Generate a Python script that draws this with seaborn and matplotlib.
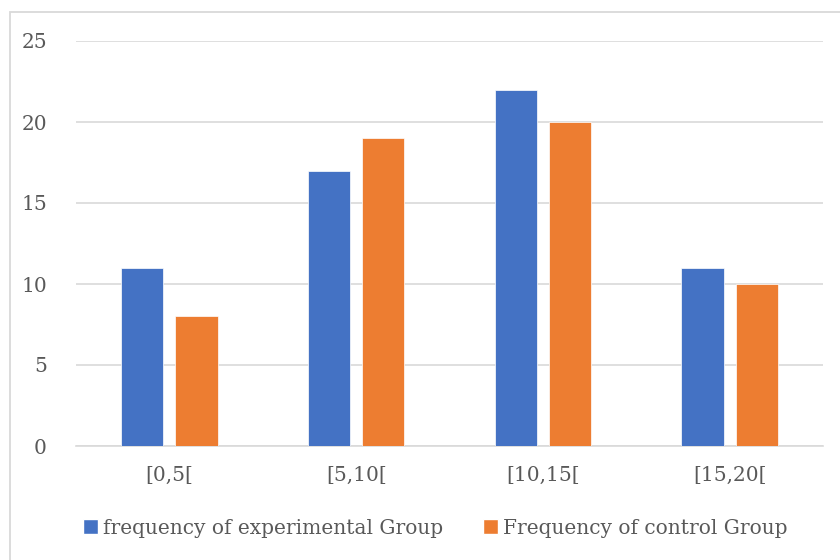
import matplotlib
matplotlib.use("Agg")
import matplotlib.pyplot as plt
from matplotlib.patches import Rectangle
import seaborn as sns
import pandas as pd

categories = ["[0,5[", "[5,10[", "[10,15[", "[15,20["]
experimental = [11, 17, 22, 11]
control = [8, 19, 20, 10]
series_names = ["frequency of experimental Group", "Frequency of control Group"]
colors = ["#4472C4", "#ED7D31"]

df = pd.DataFrame({
    "interval": categories * 2,
    "value": experimental + control,
    "group": [series_names[0]] * 4 + [series_names[1]] * 4,
})

sns.set_theme(style="white")
plt.rcParams["font.family"] = ["DejaVu Serif"]
text_color = "#595959"
fs = 14.5

fig = plt.figure(figsize=(8.4, 5.6), dpi=100)
ax = fig.add_axes([76 / 840, 1 - 446 / 560, (823 - 76) / 840, (446 - 41) / 560])

# chart frame
fig.patches.append(Rectangle((10 / 840, -0.1), 1.2, 1 - 12 / 560 + 0.1,
                             transform=fig.transFigure, fill=False,
                             edgecolor="#D9D9D9", linewidth=1.3))

sns.barplot(data=df, x="interval", y="value", hue="group", palette=colors,
            saturation=1, width=0.58, gap=0.22, ax=ax, legend=False,
            edgecolor="white", linewidth=0.5, zorder=3)

ax.set_ylim(0, 25)
ax.set_yticks(range(0, 26, 5))
ax.set_xlim(-0.5, 3.5)
ax.yaxis.grid(True, color="#D9D9D9", linewidth=1.2, zorder=0)
ax.set_axisbelow(True)
for side in ["top", "right", "left"]:
    ax.spines[side].set_visible(False)
ax.spines["bottom"].set_color("#D9D9D9")
ax.spines["bottom"].set_linewidth(1.2)
ax.set_xlabel("")
ax.set_ylabel("")
ax.tick_params(axis="y", length=0, pad=21, labelsize=fs, labelcolor=text_color)
ax.tick_params(axis="x", length=0, pad=14, labelsize=fs, labelcolor=text_color)

handles = [Rectangle((0, 0), 1, 1, facecolor=c) for c in colors]
fig.legend(handles, series_names, loc="center", bbox_to_anchor=(0.518, 1 - 528 / 560),
           ncol=2, frameon=False, fontsize=fs, labelcolor=text_color,
           handlelength=0.75, handleheight=0.75, handletextpad=0.25, columnspacing=2.0)

fig.savefig("out.png", dpi=100)
